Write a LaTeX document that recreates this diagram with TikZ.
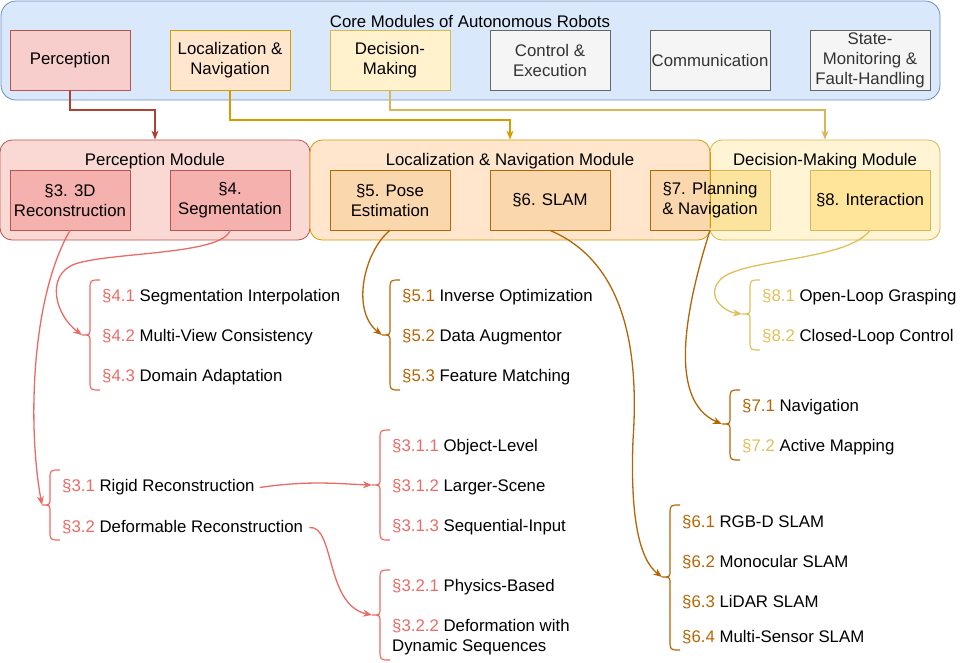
\documentclass[tikz,border=0pt]{standalone}
\usepackage{fontspec}
\setmainfont{Liberation Sans}
\usetikzlibrary{arrows.meta}
\definecolor{coreF}{HTML}{DAE8FC}\definecolor{coreD}{HTML}{6C8EBF}
\definecolor{redF}{HTML}{F8CECC}\definecolor{redD}{HTML}{B85450}
\definecolor{oraF}{HTML}{FFE6CC}\definecolor{oraD}{HTML}{D79B00}
\definecolor{yelF}{HTML}{FFF2CC}\definecolor{yelD}{HTML}{D6B656}
\definecolor{grayF}{HTML}{F5F5F5}\definecolor{grayD}{HTML}{666666}\definecolor{grayT}{HTML}{333333}
\definecolor{pmodF}{HTML}{FAD9D5}\definecolor{darkred}{HTML}{AE4132}
\definecolor{secRF}{HTML}{F5B1AE}
\definecolor{secOF}{HTML}{FAD7AC}\definecolor{secOD}{HTML}{B46504}
\definecolor{secYF}{HTML}{FFE599}\definecolor{secYO}{HTML}{FDE49E}
\definecolor{lred}{HTML}{EA6B66}\definecolor{lbrown}{HTML}{B46504}\definecolor{lyel}{HTML}{E0BF5A}
\newcommand{\mybrace}[6]{%
  \draw[#5, line width=1.2pt] (#1+10,#2) .. controls (#1,#2) .. (#1,#2+10) -- (#1,#3-7)
    .. controls (#1,#3) .. (#1-8,#3) .. controls (#1,#3) .. (#1,#3+7) -- (#1,#4-10)
    .. controls (#1,#4) .. (#1+10,#4);
  \coordinate (#6) at (#1-8,#3);}
\begin{document}
\begin{tikzpicture}[x=1pt,y=-1pt,
  every node/.style={font=\fontsize{16.8}{20}\selectfont},
  box/.style={draw, line width=0.8pt, minimum width=120pt, minimum height=60pt, inner sep=0pt, align=center},
  module/.style={draw, line width=0.8pt, rounded corners=12pt, inner sep=0pt},
  ttl/.style={yshift=-1.5pt},
  item/.style={anchor=west, inner sep=0pt, align=left, yshift=-1.5pt},
  conn/.style={line width=1.3pt, -{Stealth[length=9pt,width=7pt]}},
  curv/.style={line width=1.3pt, -{Stealth[length=9pt,width=7pt]}}
]
\useasboundingbox (0,0) rectangle (971,662);
% core container
\node[module, rounded corners=15pt, fill=coreF, draw=coreD, minimum width=939pt, minimum height=99pt] (core) at (470.5,50.5) {};
\node[ttl] (coret) at (470,20) {Core Modules of Autonomous Robots};
\node[box, fill=redF, draw=redD] (perc) at (70,60) {Perception};
\node[box, fill=oraF, draw=oraD] (loc) at (230,60) {Localization \&\\Navigation};
\node[box, fill=yelF, draw=yelD] (dec) at (390,60) {Decision-\\Making};
\node[box, fill=grayF, draw=grayD, text=grayT] (ctrl) at (550,60) {Control \&\\Execution};
\node[box, fill=grayF, draw=grayD, text=grayT] (comm) at (710,60) {Communication};
\node[box, fill=grayF, draw=grayD, text=grayT] (state) at (870,60) {State-\\Monitoring \&\\Fault-Handling};
% module containers
\node[module, fill=pmodF, draw=redD, minimum width=310pt, minimum height=100pt] (pmod) at (155,190) {};
\node[ttl] (pmodt) at (155,160) {Perception Module};
\node[box, fill=secRF, draw=redD] (s3) at (70,200) {§3. 3D\\Reconstruction};
\node[box, fill=secRF, draw=redD] (s4) at (230,200) {§4.\\Segmentation};
\node[module, fill=oraF, draw=oraD, minimum width=400pt, minimum height=100pt] (lmod) at (510,190) {};
\node[ttl] (lmodt) at (510,160) {Localization \& Navigation Module};
\node[box, fill=secOF, draw=secOD] (s5) at (390,200) {§5. Pose\\Estimation};
\node[box, fill=secOF, draw=secOD] (s6) at (550,200) {§6. SLAM};
\node[box, fill=secOF, draw=secOD] (s7) at (710,200) {};
\node[module, fill=yelF, fill opacity=0.85, draw=yelD, minimum width=230pt, minimum height=100pt] (dmod) at (825,190) {};
\filldraw[fill=secYO, draw=yelD, line width=0.8pt] (710,170) -- (770,170) -- (770,230) -- (710,230);
\draw[oraD, line width=0.8pt] (710,152) -- (710,228);
\node (s7t) at (710,200) [align=center] {§7. Planning\\\& Navigation};
\node[ttl] (dmodt) at (825,160) {Decision-Making Module};
\node[box, fill=secYF, draw=yelD] (s8) at (870,200) {§8. Interaction};
% top connectors
\draw[conn, darkred] (perc.south) -- (70,110) -| (pmod.north);
\draw[conn, oraD] (loc.south) -- (230,120) -| (lmod.north);
\draw[conn, yelD] (dec.south) -- (390,110) -| (dmod.north);
% lists
\node[item] (i41) at (102,296) {\textcolor{lred}{§4.1} Segmentation Interpolation};
\node[item] (i42) at (102,336) {\textcolor{lred}{§4.2} Multi-View Consistency};
\node[item] (i43) at (102,376) {\textcolor{lred}{§4.3} Domain Adaptation};
\mybrace{90}{280}{335}{390}{lred}{b4}
\node[item] (i31) at (62,486) {\textcolor{lred}{§3.1} Rigid Reconstruction};
\node[item] (i32) at (62,526) {\textcolor{lred}{§3.2} Deformable Reconstruction};
\mybrace{50}{470}{505}{540}{lred}{b3}
\node[item] (i311) at (392,446) {\textcolor{lred}{§3.1.1} Object-Level};
\node[item] (i312) at (392,486) {\textcolor{lred}{§3.1.2} Larger-Scene};
\node[item] (i313) at (392,526) {\textcolor{lred}{§3.1.3} Sequential-Input};
\mybrace{380}{430}{485}{540}{lred}{b31}
\node[item] (i321) at (392,586) {\textcolor{lred}{§3.2.1} Physics-Based};
\node[item] (i322) at (392,636) {\textcolor{lred}{§3.2.2} Deformation with\\Dynamic Sequences};
\mybrace{380}{570}{615}{660}{lred}{b32}
\node[item] (i51) at (402,296) {\textcolor{lbrown}{§5.1} Inverse Optimization};
\node[item] (i52) at (402,336) {\textcolor{lbrown}{§5.2} Data Augmentor};
\node[item] (i53) at (402,376) {\textcolor{lbrown}{§5.3} Feature Matching};
\mybrace{390}{280}{335}{390}{lbrown}{b5}
\node[item] (i61) at (682,521) {\textcolor{lbrown}{§6.1} RGB-D SLAM};
\node[item] (i62) at (682,561) {\textcolor{lbrown}{§6.2} Monocular SLAM};
\node[item] (i63) at (682,601) {\textcolor{lbrown}{§6.3} LiDAR SLAM};
\node[item] (i64) at (682,636) {\textcolor{lbrown}{§6.4} Multi-Sensor SLAM};
\mybrace{670}{505}{577}{650}{lbrown}{b6}
\node[item] (i71) at (742,406) {\textcolor{lbrown}{§7.1} Navigation};
\node[item] (i72) at (742,446) {\textcolor{lyel}{§7.2} Active Mapping};
\mybrace{730}{390}{424}{460}{lbrown}{b7}
\node[item] (i81) at (762,296) {\textcolor{lyel}{§8.1} Open-Loop Grasping};
\node[item] (i82) at (762,336) {\textcolor{lyel}{§8.2} Closed-Loop Control};
\mybrace{750}{280}{314}{350}{lyel}{b8}
% curved connectors
\draw[curv, lred] (s4.south) .. controls (222,255) and (110,252) .. (75,264) .. controls (45,275) and (55,315) .. (b4);
\draw[curv, lred] (s3.south) .. controls (30,300) and (28,430) .. (b3);
\draw[curv, lred] ([xshift=5pt]i31.east) .. controls (310,480) and (340,484) .. (b31);
\draw[curv, lred] ([xshift=6pt]i32.east) .. controls (335,525) and (325,605) .. (b32);
\draw[curv, lbrown] (s5.south) .. controls (365,250) and (350,310) .. (b5);
\draw[curv, lbrown] (s6.south) .. controls (620,260) and (640,340) .. (633,440) .. controls (630,520) and (640,560) .. (b6);
\draw[curv, lbrown] (s7.south) .. controls (688,300) and (665,400) .. (b7);
\draw[curv, lyel] (s8.south) .. controls (845,262) and (740,258) .. (720,280) .. controls (705,297) and (725,312) .. (b8);
\end{tikzpicture}
\end{document}
